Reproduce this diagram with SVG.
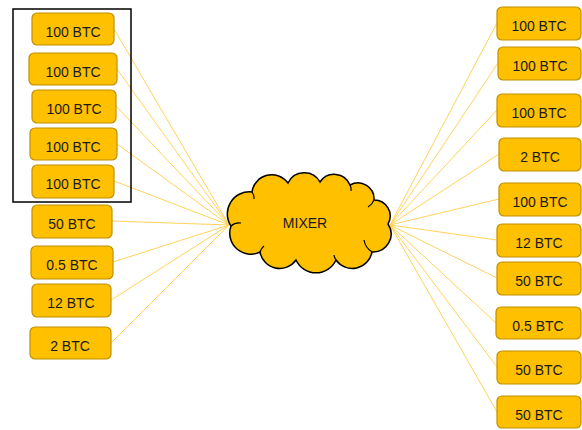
<svg xmlns="http://www.w3.org/2000/svg" width="582" height="430" viewBox="0 0 582 430">
<style>
.b{fill:#FFC000;stroke:#C09000;stroke-width:1.2}
.t{font-family:"Liberation Sans",Arial,sans-serif;font-size:14px;fill:#1a1a1a;text-anchor:middle;dominant-baseline:central}
.c{stroke:#FFD35A;stroke-width:1;fill:none}
</style>
<rect width="582" height="430" fill="#fff"/>
<g id="connectors">
<path class="c" d="M114,29L229,225M117,69L229,225M116,106L229,225M117,144L229,225M114,181L229,225M112,221L229,225M113,262L229,225M111,300L229,225M111,343L229,225"/>
<path class="c" d="M390,225L497,23M390,225L498,63M390,225L497,110M390,225L499,154M390,225L499,199M390,225L497,240M390,225L497,278M390,225L496,323M390,225L497,367M390,225L497,412"/>
</g>
<rect id="group-box" x="13" y="9" width="118" height="193" fill="none" stroke="#000" stroke-width="1.5"/>
<g id="mixer">
<path d="M231,226 A22,22 0 0 1 252,192 A20,20 0 0 1 288,183 A18,18 0 0 1 320,182 A17,17 0 0 1 350,185 A16,16 0 0 1 374,200 A16,16 0 0 1 388,224 A18,18 0 0 1 372,252 A20,20 0 0 1 336,260 A22,22 0 0 1 296,260 A20,20 0 0 1 260,252 A21,21 0 0 1 231,226 Z" fill="#FFC000" stroke="#000" stroke-width="1.5"/>
<path d="M252,192 a10,10 0 0 1 2,7 M350,185 a10,10 0 0 1 1,6 M374,200 a14,14 0 0 1 -6,7 M372,252 a18,18 0 0 1 -8,-12 M336,260 a10,10 0 0 1 -2,-5 M260,252 a12,12 0 0 1 4,-6 M231,226 a12,12 0 0 1 10,-3" fill="none" stroke="#000" stroke-width="1.2"/>
<text class="t" x="305" y="223">MIXER</text>
</g>
<g id="in1"><rect class="b" x="32" y="13" width="82" height="32" rx="5"/><text class="t" x="73" y="32">100 BTC</text></g>
<g id="in2"><rect class="b" x="29" y="53" width="88" height="32" rx="5"/><text class="t" x="73" y="72">100 BTC</text></g>
<g id="in3"><rect class="b" x="32" y="90" width="84" height="33" rx="5"/><text class="t" x="74" y="109">100 BTC</text></g>
<g id="in4"><rect class="b" x="30" y="128" width="87" height="32" rx="5"/><text class="t" x="73" y="147">100 BTC</text></g>
<g id="in5"><rect class="b" x="32" y="165" width="82" height="33" rx="5"/><text class="t" x="73" y="184">100 BTC</text></g>
<g id="in6"><rect class="b" x="32" y="205" width="80" height="33" rx="5"/><text class="t" x="72" y="224">50 BTC</text></g>
<g id="in7"><rect class="b" x="31" y="246" width="82" height="33" rx="5"/><text class="t" x="72" y="265">0.5 BTC</text></g>
<g id="in8"><rect class="b" x="32" y="284" width="79" height="33" rx="5"/><text class="t" x="71" y="303">12 BTC</text></g>
<g id="in9"><rect class="b" x="30" y="327" width="81" height="32" rx="5"/><text class="t" x="70" y="346">2 BTC</text></g>
<g id="out1"><rect class="b" x="497" y="7" width="84" height="33" rx="5"/><text class="t" x="539" y="26">100 BTC</text></g>
<g id="out2"><rect class="b" x="498" y="47" width="83" height="33" rx="5"/><text class="t" x="540" y="66">100 BTC</text></g>
<g id="out3"><rect class="b" x="497" y="94" width="84" height="33" rx="5"/><text class="t" x="539" y="113">100 BTC</text></g>
<g id="out4"><rect class="b" x="499" y="138" width="82" height="33" rx="5"/><text class="t" x="540" y="157">2 BTC</text></g>
<g id="out5"><rect class="b" x="499" y="183" width="82" height="33" rx="5"/><text class="t" x="540" y="202">100 BTC</text></g>
<g id="out6"><rect class="b" x="497" y="224" width="84" height="33" rx="5"/><text class="t" x="539" y="243">12 BTC</text></g>
<g id="out7"><rect class="b" x="497" y="262" width="84" height="33" rx="5"/><text class="t" x="539" y="281">50 BTC</text></g>
<g id="out8"><rect class="b" x="496" y="307" width="85" height="32" rx="5"/><text class="t" x="538" y="326">0.5 BTC</text></g>
<g id="out9"><rect class="b" x="497" y="351" width="84" height="33" rx="5"/><text class="t" x="539" y="370">50 BTC</text></g>
<g id="out10"><rect class="b" x="497" y="396" width="84" height="32" rx="5"/><text class="t" x="539" y="415">50 BTC</text></g>
</svg>
